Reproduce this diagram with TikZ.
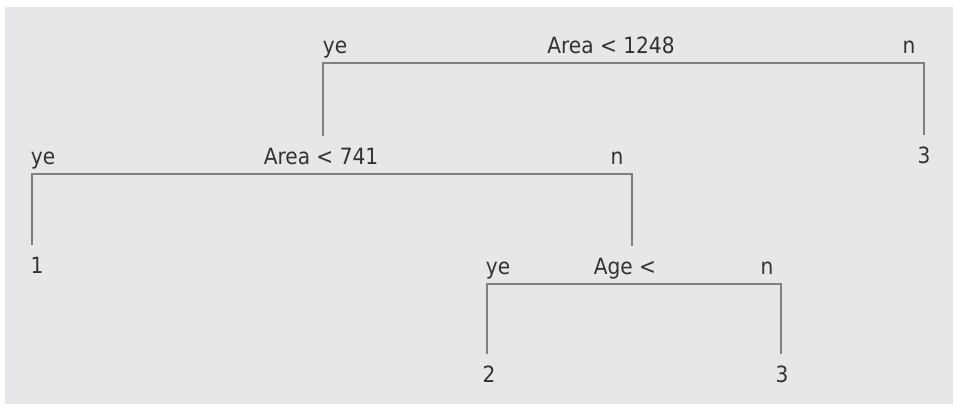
\documentclass[tikz,border=0pt]{standalone}
\usepackage{fontspec}
\setmainfont{DejaVu Sans Condensed}
\usepackage{tikz}
\definecolor{bggray}{HTML}{E6E7E9}
\definecolor{linegray}{HTML}{808080}
\definecolor{txtgray}{HTML}{333333}

\begin{document}
\begin{tikzpicture}[x=0.75pt,y=-0.75pt,
  lbl/.style={anchor=base,inner sep=0pt,text=txtgray,font=\fontsize{16.8}{20}\selectfont},
  branch/.style={draw=linegray,line width=1.4pt,shorten <=8.5pt,shorten >=8.5pt}]
  % Panel
  \useasboundingbox (0,0) rectangle (953,405);
  \fill[bggray] (5,7) rectangle (953,404);

  % Root split
  \node[lbl] (rootTest) at (611,53) {Area < 1248};
  \node[lbl] (rootYes) at (335,53) {ye};
  \node[lbl] (rootNo) at (909,53) {n};
  \coordinate (rootL) at (323,63);
  \coordinate (rootR) at (924,63);
  \node[lbl] (leafRootNo) at (924,163) {3};

  % Left split
  \node[lbl] (areaTest) at (321,164) {Area < 741};
  \node[lbl] (areaYes) at (43,164) {ye};
  \node[lbl] (areaNo) at (617,164) {n};
  \coordinate (areaL) at (32,174);
  \coordinate (areaR) at (632,174);
  \node[lbl] (leafAreaYes) at (37,273) {1};

  % Age split
  \node[lbl] (ageTest) at (625,274) {Age <};
  \node[lbl] (ageYes) at (498,274) {ye};
  \node[lbl] (ageNo) at (767,274) {n};
  \coordinate (ageL) at (487,284);
  \coordinate (ageR) at (781,284);
  \node[lbl] (leafAgeYes) at (489,382) {2};
  \node[lbl] (leafAgeNo) at (782,382) {3};

  % Branches
  \draw[branch] (rootL |- areaTest.north) -- (rootL) -- (rootR) -- (rootR |- leafRootNo.north);
  \draw[branch] (areaL |- leafAreaYes.north) -- (areaL) -- (areaR) -- (areaR |- ageTest.north);
  \draw[branch] (ageL |- leafAgeYes.north) -- (ageL) -- (ageR) -- (ageR |- leafAgeNo.north);
\end{tikzpicture}
\end{document}
